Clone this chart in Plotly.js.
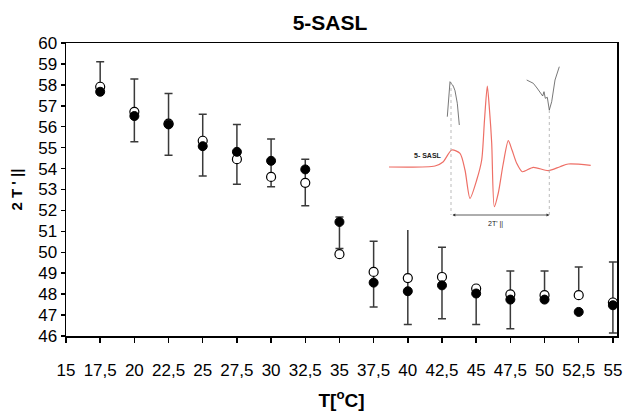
<!DOCTYPE html>
<html>
<head>
<meta charset="utf-8">
<script src="https://cdn.plot.ly/plotly-3.0.1.min.js"></script>
<style>html,body{margin:0;padding:0;background:#fff}#chart{width:626px;height:412px}</style>
</head>
<body>
<div id="chart"></div>
<script>
// ---- main data ----
const temps = [17.5, 20, 22.5, 25, 27.5, 30, 32.5, 35, 37.5, 40, 42.5, 45, 47.5, 50, 52.5, 55];
const filledVals = [57.67, 56.51, 56.11, 55.07, 54.80, 54.37, 53.96, 51.45, 48.55, 48.14, 48.42, 48.03, 47.74, 47.74, 47.15, 47.47];
const openVals   = [57.91, 56.71, 56.15, 55.33, 54.45, 53.60, 53.32, 49.91, 49.06, 48.77, 48.82, 48.27, 47.99, 47.95, 47.95, 47.60];
const errTop     = [59.10, 58.28, 57.59, 56.60, 56.11, 55.41, 54.45, 51.69, 50.53, 51.42, 50.24, null, 49.11, 49.11, 49.30, 49.54];
const errBottom  = [null, 55.28, 54.64, 53.65, 53.25, 53.13, 52.22, 50.18, 47.39, 46.55, 46.83, 46.55, 46.35, null, null, 46.14];
const xTickVals = [15, 17.5, 20, 22.5, 25, 27.5, 30, 32.5, 35, 37.5, 40, 42.5, 45, 47.5, 50, 52.5, 55];
const xTickText = ["15", "17,5", "20", "22,5", "25", "27,5", "30", "32,5", "35", "37,5", "40", "42,5", "45", "47,5", "50", "52,5", "55"];

// ---- inset EPR spectrum (inset units) ----
const specX = [0, 46, 54, 62.7, 71, 76, 81, 87.7, 92.7, 95.5, 98.3, 100.5, 102.7, 105.3, 109.3, 114, 119.3, 123, 127.7, 133.3, 144.3, 159.3, 171, 179.3, 201.7];
const specY = [0, 1, 5, 17, 13.7, -3, -31.3, -13, 7, 47, 81, 57, 24, -39.7, -26, 2, 26.3, 17, 3.7, -4.7, -0.3, -3.7, 0.3, 3, 1.7];
const zoomLeftX = [58.3, 61, 62.5, 63.7, 65, 66, 68.3, 70.3];
const zoomLeftY = [50.3, 85.3, 83, 82, 79, 76.3, 63.7, 42];
const zoomRightX = [137.7, 141, 144.3, 148, 151, 153.7, 155, 156.3, 158.3, 160.3, 162.7, 166, 170.3];
const zoomRightY = [87, 85, 83.7, 79, 75.3, 71, 75.3, 68.7, 69.7, 57, 65.3, 87, 100.3];
const dotX = [62, 160.3];
const dotTop = [85, 57];
const dotBottom = [-48, -48];

const lo = errBottom.map((b, i) => b === null ? openVals[i] : b);
const hi = errTop.map((t, i) => t === null ? openVals[i] : t);

const font = "'Liberation Sans', Arial, Helvetica, sans-serif";
const traces = [];

traces.push({x: specX, y: specY, xaxis: 'x2', yaxis: 'y2', mode: 'lines',
  line: {color: '#ee6f66', width: 1.2, shape: 'spline', smoothing: 0.7}, hoverinfo: 'skip'});
traces.push({x: zoomLeftX, y: zoomLeftY, xaxis: 'x2', yaxis: 'y2', mode: 'lines',
  line: {color: '#555', width: 0.8}, hoverinfo: 'skip'});
traces.push({x: zoomRightX, y: zoomRightY, xaxis: 'x2', yaxis: 'y2', mode: 'lines',
  line: {color: '#555', width: 0.8}, hoverinfo: 'skip'});
dotX.forEach((dx, i) => {
  traces.push({x: [dx, dx], y: [dotTop[i], dotBottom[i]], xaxis: 'x2', yaxis: 'y2', mode: 'lines',
    line: {color: '#aaa', width: 0.8, dash: 'dot'}, hoverinfo: 'skip'});
});

traces.push({x: temps, y: hi, mode: 'markers', marker: {size: 1, color: 'rgba(0,0,0,0)'},
  error_y: {type: 'data', symmetric: false, array: hi.map(() => 0), arrayminus: hi.map((h, i) => h - lo[i]),
    color: '#3a3a3a', thickness: 1.5, width: 4}});
traces.push({x: temps, y: openVals, mode: 'markers',
  marker: {symbol: 'circle', size: 9, color: '#fff', line: {color: '#000', width: 1.2}}});
traces.push({x: temps, y: filledVals, mode: 'markers',
  marker: {symbol: 'circle', size: 9, color: '#000', line: {color: '#000', width: 1}}});

const layout = {
  width: 626, height: 412,
  margin: {l: 66, r: 9, t: 43, b: 76},
  paper_bgcolor: '#fff', plot_bgcolor: '#fff',
  showlegend: false,
  font: {family: font, color: '#000'},
  title: {text: '<b>5-SASL</b>', x: 330/626, xref: 'container', xanchor: 'center',
    y: 1 - 23/412, yref: 'container', yanchor: 'middle', font: {size: 21, family: font, color: '#000'}},
  xaxis: {range: [15, 55.3], tickmode: 'array', tickvals: xTickVals, ticktext: xTickText, tickangle: 0,
    ticks: 'outside', ticklen: 5, tickwidth: 1.5, tickcolor: '#000',
    showline: true, linecolor: '#000', linewidth: 1.5, mirror: true,
    showgrid: false, zeroline: false, ticklabelstandoff: 13,
    tickfont: {size: 17, family: font, color: '#000'},
    title: {text: '<b>T[<sup>o</sup>C]</b>', font: {size: 19, family: font, color: '#000'}, standoff: 15}},
  yaxis: {range: [46, 60], dtick: 1, tick0: 46,
    ticks: 'outside', ticklen: 4, tickwidth: 1.5, tickcolor: '#000',
    showline: true, linecolor: '#000', linewidth: 1.5, mirror: true,
    showgrid: false, zeroline: false,
    tickfont: {size: 17, family: font, color: '#000'},
    title: {text: "<b>2 T ' ||</b>", font: {size: 15, family: font, color: '#000'}, standoff: 12}},
  xaxis2: {domain: [(389-66)/551, (591-66)/551], range: [0, 202], visible: false, anchor: 'y2', fixedrange: true},
  yaxis2: {domain: [(336-230)/293, (336-60)/293], range: [-63, 107], visible: false, anchor: 'x2', fixedrange: true},
  annotations: [
    {xref: 'x2', yref: 'y2', x: 39, y: 12, text: '<b>5- SASL</b>', showarrow: false, font: {size: 7, family: font, color: '#222'}},
    {xref: 'x2', yref: 'y2', x: 106, y: -57, text: "2T' ||", showarrow: false, font: {size: 7, family: font, color: '#222'}},
    {xref: 'x2', yref: 'y2', x: dotX[1], y: dotBottom[1], axref: 'x2', ayref: 'y2', ax: dotX[0], ay: dotBottom[0],
      text: '', showarrow: true, arrowhead: 2, startarrowhead: 2, arrowside: 'end+start',
      arrowsize: 0.7, startarrowsize: 0.7, arrowwidth: 0.8, arrowcolor: '#333'}
  ]
};

Plotly.newPlot('chart', traces, layout, {displayModeBar: false, staticPlot: true});
</script>
</body>
</html>
